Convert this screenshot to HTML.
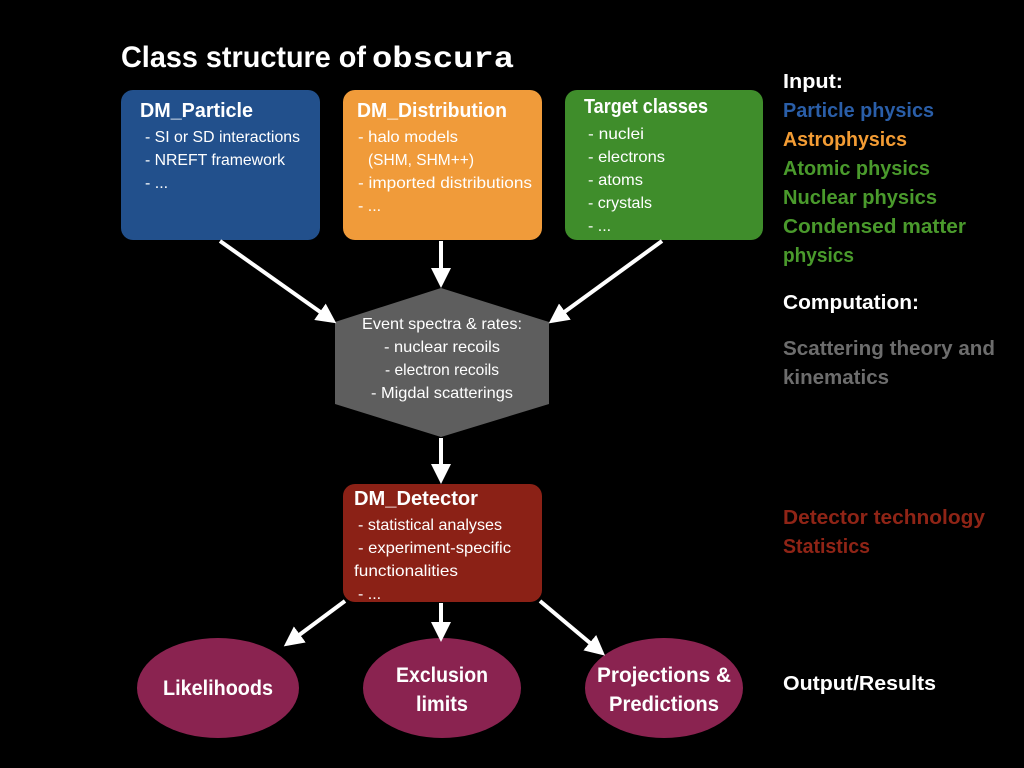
<!DOCTYPE html>
<html><head><meta charset="utf-8"><style>
html,body{margin:0;padding:0;background:#000;}
svg{display:block;}
text{font-family:"Liberation Sans",sans-serif;fill:#fff;}
.b{font-weight:bold;}
.t{font-size:16px;}
.h{font-size:20px;font-weight:bold;}
.r{font-size:20px;font-weight:bold;}
</style></head><body>
<svg width="1024" height="768" viewBox="0 0 1024 768" xmlns="http://www.w3.org/2000/svg">
<defs>
<marker id="a" viewBox="0 0 10 10" refX="8" refY="5" markerWidth="5" markerHeight="5" orient="auto" markerUnits="strokeWidth">
<path d="M0,0 L10,5 L0,10 z" fill="#fff"/></marker>
</defs>
<rect width="1024" height="768" fill="#000"/>
<text x="121" y="67" class="b" font-size="30" textLength="245" lengthAdjust="spacingAndGlyphs">Class structure of</text>
<text x="372" y="67" font-weight="bold" font-size="30" style="font-family:'Liberation Mono',monospace" textLength="142" lengthAdjust="spacingAndGlyphs">obscura</text>

<rect x="121" y="90" width="199" height="150" rx="12" fill="#22508c"/>
<rect x="343" y="90" width="199" height="150" rx="12" fill="#f09b3a"/>
<rect x="565" y="90" width="198" height="150" rx="12" fill="#3f8d2b"/>

<text x="140" y="117" class="h" textLength="113" lengthAdjust="spacingAndGlyphs">DM_Particle</text>
<text x="145" y="142" class="t" textLength="155" lengthAdjust="spacingAndGlyphs">- SI or SD interactions</text>
<text x="145" y="165" class="t" textLength="140" lengthAdjust="spacingAndGlyphs">- NREFT framework</text>
<text x="145" y="188" class="t">- ...</text>

<text x="357" y="117" class="h" textLength="150" lengthAdjust="spacingAndGlyphs">DM_Distribution</text>
<text x="358" y="142" class="t" textLength="100" lengthAdjust="spacingAndGlyphs">- halo models</text>
<text x="368" y="165" class="t" textLength="106" lengthAdjust="spacingAndGlyphs">(SHM, SHM++)</text>
<text x="358" y="188" class="t" textLength="174" lengthAdjust="spacingAndGlyphs">- imported distributions</text>
<text x="358" y="211" class="t">- ...</text>

<text x="584" y="113" class="h" textLength="124" lengthAdjust="spacingAndGlyphs">Target classes</text>
<text x="588" y="139" class="t" textLength="56" lengthAdjust="spacingAndGlyphs">- nuclei</text>
<text x="588" y="162" class="t" textLength="77" lengthAdjust="spacingAndGlyphs">- electrons</text>
<text x="588" y="185" class="t" textLength="55" lengthAdjust="spacingAndGlyphs">- atoms</text>
<text x="588" y="208" class="t" textLength="64" lengthAdjust="spacingAndGlyphs">- crystals</text>
<text x="588" y="231" class="t">- ...</text>

<polygon points="441,288 549,322 549,404 441,437 335,404 335,322" fill="#5e5e5e"/>
<g text-anchor="middle">
<text x="442" y="329" class="t" textLength="160" lengthAdjust="spacingAndGlyphs">Event spectra &amp; rates:</text>
<text x="442" y="352" class="t" textLength="116" lengthAdjust="spacingAndGlyphs">- nuclear recoils</text>
<text x="442" y="375" class="t" textLength="114" lengthAdjust="spacingAndGlyphs">- electron recoils</text>
<text x="442" y="398" class="t" textLength="142" lengthAdjust="spacingAndGlyphs">- Migdal scatterings</text>
</g>

<rect x="343" y="484" width="199" height="118" rx="12" fill="#8b2116"/>
<text x="354" y="505" class="h" textLength="124" lengthAdjust="spacingAndGlyphs">DM_Detector</text>
<text x="358" y="530" class="t" textLength="144" lengthAdjust="spacingAndGlyphs">- statistical analyses</text>
<text x="358" y="553" class="t" textLength="153" lengthAdjust="spacingAndGlyphs">- experiment-specific</text>
<text x="354" y="576" class="t" textLength="104" lengthAdjust="spacingAndGlyphs">functionalities</text>
<text x="358" y="599" class="t">- ...</text>

<ellipse cx="218" cy="688" rx="81" ry="50" fill="#8a2350"/>
<ellipse cx="442" cy="688" rx="79" ry="50" fill="#8a2350"/>
<ellipse cx="664" cy="688" rx="79" ry="50" fill="#8a2350"/>
<g text-anchor="middle" class="b" font-size="21">
<text x="218" y="695" textLength="110" lengthAdjust="spacingAndGlyphs">Likelihoods</text>
<text x="442" y="682" textLength="92" lengthAdjust="spacingAndGlyphs">Exclusion</text>
<text x="442" y="711" textLength="52" lengthAdjust="spacingAndGlyphs">limits</text>
<text x="664" y="682" textLength="134" lengthAdjust="spacingAndGlyphs">Projections &amp;</text>
<text x="664" y="711" textLength="110" lengthAdjust="spacingAndGlyphs">Predictions</text>
</g>

<g stroke="#fff" stroke-width="4" fill="none" marker-end="url(#a)">
<line x1="220" y1="241" x2="333" y2="321"/>
<line x1="441" y1="241" x2="441" y2="284"/>
<line x1="662" y1="241" x2="552" y2="321"/>
<line x1="441" y1="438" x2="441" y2="480"/>
<line x1="345" y1="601" x2="287" y2="644"/>
<line x1="441" y1="603" x2="441" y2="638"/>
<line x1="540" y1="601" x2="602" y2="653"/>
</g>

<text x="783" y="88" class="r" textLength="60" lengthAdjust="spacingAndGlyphs">Input:</text>
<text x="783" y="117" class="r" style="fill:#2a5ea8" textLength="151" lengthAdjust="spacingAndGlyphs">Particle physics</text>
<text x="783" y="146" class="r" style="fill:#f39c34" textLength="124" lengthAdjust="spacingAndGlyphs">Astrophysics</text>
<text x="783" y="175" class="r" style="fill:#4a9a2c" textLength="147" lengthAdjust="spacingAndGlyphs">Atomic physics</text>
<text x="783" y="204" class="r" style="fill:#4a9a2c" textLength="154" lengthAdjust="spacingAndGlyphs">Nuclear physics</text>
<text x="783" y="233" class="r" style="fill:#4a9a2c" textLength="183" lengthAdjust="spacingAndGlyphs">Condensed matter</text>
<text x="783" y="262" class="r" style="fill:#4a9a2c" textLength="71" lengthAdjust="spacingAndGlyphs">physics</text>
<text x="783" y="309" class="r" textLength="136" lengthAdjust="spacingAndGlyphs">Computation:</text>
<text x="783" y="355" class="r" style="fill:#6d6d6d" textLength="212" lengthAdjust="spacingAndGlyphs">Scattering theory and</text>
<text x="783" y="384" class="r" style="fill:#6d6d6d" textLength="106" lengthAdjust="spacingAndGlyphs">kinematics</text>
<text x="783" y="524" class="r" style="fill:#8f2416" textLength="202" lengthAdjust="spacingAndGlyphs">Detector technology</text>
<text x="783" y="553" class="r" style="fill:#8f2416" textLength="87" lengthAdjust="spacingAndGlyphs">Statistics</text>
<text x="783" y="690" class="r" textLength="153" lengthAdjust="spacingAndGlyphs">Output/Results</text>
</svg>
</body></html>
